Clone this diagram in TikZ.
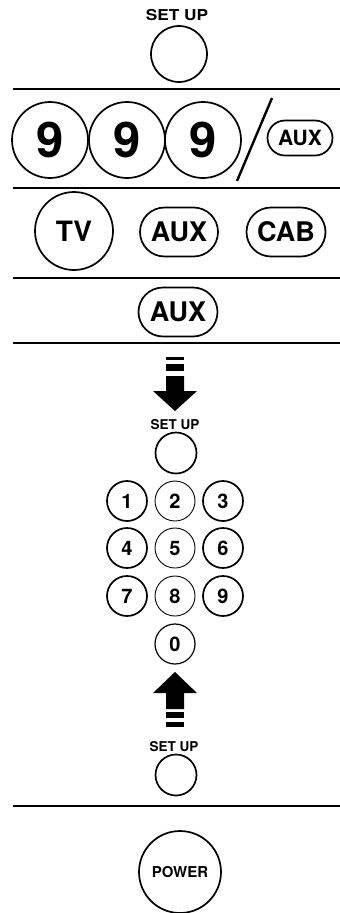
\documentclass[tikz,border=0pt]{standalone}
\usepackage{fontspec}
\setmainfont{TeX Gyre Heros}
\usetikzlibrary{shapes.misc}
\newcommand{\fs}[1]{\bfseries\fontsize{#1}{#1}\selectfont}
\tikzset{
  btn/.style={draw,circle,line width=1.7pt,inner sep=0pt},
  pill/.style={draw,rounded rectangle,line width=1.7pt,inner sep=0pt},
  rule/.style={line width=2.2pt},
  key/.style={btn,minimum size=40pt,font=\fs{20}}
}
\begin{document}
\begin{tikzpicture}[x=1pt,y=-1pt]
      \useasboundingbox (0,0) rectangle (340,913);
      % first set up
      \node[font=\fs{15},xscale=1.15] (setupA) at (177,15) {SET UP};
      \node[btn,minimum size=56pt] (setupbtnA) at (179,54) {};
      \draw[rule] (13,89) -- (340,89);
      % code 999 or aux
      \node[btn,minimum size=76pt,font=\fs{49}] (nineA) at (50,140) {9};
      \node[btn,minimum size=76pt,font=\fs{49}] (nineB) at (127,140) {9};
      \node[btn,minimum size=76pt,font=\fs{49}] (nineC) at (203,140) {9};
      \draw[line width=2.4pt] (272,98) -- (237,181);
      \node[pill,minimum width=65pt,minimum height=35pt,font=\fs{21}] (auxA) at (300,138) {AUX};
      \draw[rule] (13,188) -- (340,188);
      % device keys
      \node[btn,minimum size=78pt,font=\fs{28}] (tv) at (74,231) {TV};
      \node[pill,minimum width=78pt,minimum height=49pt,font=\fs{27}] (auxB) at (179,232) {AUX};
      \node[pill,minimum width=79pt,minimum height=49pt,font=\fs{27}] (cab) at (286,232) {CAB};
      \draw[rule] (13,278) -- (340,278);
      \node[pill,minimum width=79pt,minimum height=49pt,font=\fs{27}] (auxC) at (178,312) {AUX};
      \draw[rule] (13,343) -- (340,343);
      % down arrow
      \fill (166,357) rectangle (184,360);
      \fill (166,364) rectangle (184,371);
      \fill (166,376) -- (184,376) -- (184,391) -- (197,391) -- (175,411) -- (153,391) -- (166,391) -- cycle;
      \node[font=\fs{13.5}] (setupB) at (175,425) {SET UP};
      \node[btn,minimum size=41pt] (setupbtnB) at (176,453) {};
      % keypad
      \foreach \d/\x/\y/\w in {1/127/501/1.7, 2/175/501/0.9, 3/223/501/1.7,
                               4/127/548/1.7, 5/175/548/0.9, 6/223/548/1.7,
                               7/127/596/1.7, 8/175/596/0.9, 9/223/596/1.7,
                               0/175/644/1.2}
        \node[key,line width=\w pt] (key\d) at (\x,\y) {\d};
      % up arrow
      \fill (175,672) -- (197,693) -- (184,693) -- (184,709) -- (166,709) -- (166,693) -- (153,693) -- cycle;
      \fill (166,712) rectangle (184,718);
      \fill (166,722) rectangle (184,727);
      \node[font=\fs{13.5}] (setupC) at (174,747) {SET UP};
      \node[btn,minimum size=41pt] (setupbtnC) at (176,775) {};
      \draw[rule] (13,806) -- (340,806);
      % power
      \node[btn,minimum size=82pt,font=\fs{15}] (power) at (180,872) {POWER};
\end{tikzpicture}
\end{document}
